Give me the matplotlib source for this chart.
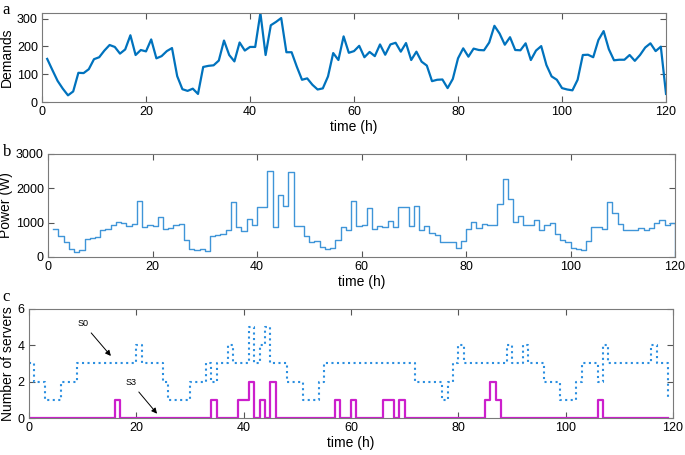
import numpy as np
import matplotlib.pyplot as plt

# hourly demand (panel a), t = 1..120
demand = [155, 115, 76, 48, 24, 38, 105, 104, 118, 154,
          161, 185, 205, 198, 174, 189, 240, 169, 187, 182,
          225, 157, 165, 183, 194, 93, 46, 40, 48, 29,
          126, 130, 132, 149, 221, 169, 146, 214, 185, 198,
          198, 320, 169, 276, 288, 302, 179, 179, 127, 80,
          85, 62, 45, 49, 92, 176, 151, 236, 177, 183,
          202, 161, 180, 165, 207, 170, 207, 213, 181, 212,
          151, 181, 145, 131, 75, 80, 81, 50, 83, 157,
          193, 163, 192, 187, 186, 214, 274, 246, 206, 233,
          187, 186, 211, 151, 185, 201, 133, 92, 80, 50,
          45, 42, 80, 169, 170, 161, 223, 255, 190, 150,
          152, 152, 169, 148, 169, 196, 211, 183, 199, 29]

# power consumption (panel b), t = 1..120
power = [806, 612, 427, 243, 146, 204, 534, 544, 592, 796,
         825, 932, 1019, 1000, 893, 951, 1640, 864, 942, 913,
         1155, 806, 854, 922, 971, 495, 233, 204, 243, 165,
         621, 641, 660, 777, 1612, 864, 767, 1107, 922, 1466,
         1466, 2515, 864, 1806, 1476, 2466, 903, 903, 621, 437,
         466, 301, 243, 272, 495, 883, 786, 1621, 893, 922,
         1437, 825, 913, 864, 1039, 874, 1466, 1466, 913, 1495,
         786, 913, 709, 650, 427, 447, 447, 262, 466, 806,
         1029, 845, 971, 942, 932, 1534, 2272, 1680, 1019, 1194,
         942, 942, 1087, 786, 932, 1000, 670, 495, 437, 252,
         233, 214, 456, 864, 864, 825, 1612, 1291, 951, 786,
         796, 796, 845, 786, 854, 981, 1087, 932, 1000, 0]

# number of servers (panel c), t = 0..119
s0 = [3, 2, 2, 1, 1, 1, 2, 2, 2, 3,
      3, 3, 3, 3, 3, 3, 3, 3, 3, 3,
      4, 3, 3, 3, 3, 2, 1, 1, 1, 1,
      2, 2, 2, 3, 2, 3, 3, 4, 3, 3,
      3, 5, 3, 4, 5, 3, 3, 3, 2, 2,
      2, 1, 1, 1, 2, 3, 3, 3, 3, 3,
      3, 3, 3, 3, 3, 3, 3, 3, 3, 3,
      3, 3, 2, 2, 2, 2, 2, 1, 2, 3,
      4, 3, 3, 3, 3, 3, 3, 3, 3, 4,
      3, 3, 4, 3, 3, 3, 2, 2, 2, 1,
      1, 1, 2, 3, 3, 3, 2, 4, 3, 3,
      3, 3, 3, 3, 3, 3, 4, 3, 3, 1]
s3 = [0, 0, 0, 0, 0, 0, 0, 0, 0, 0,
      0, 0, 0, 0, 0, 0, 1, 0, 0, 0,
      0, 0, 0, 0, 0, 0, 0, 0, 0, 0,
      0, 0, 0, 0, 1, 0, 0, 0, 0, 1,
      1, 2, 0, 1, 0, 2, 0, 0, 0, 0,
      0, 0, 0, 0, 0, 0, 0, 1, 0, 0,
      1, 0, 0, 0, 0, 0, 1, 1, 0, 1,
      0, 0, 0, 0, 0, 0, 0, 0, 0, 0,
      0, 0, 0, 0, 0, 1, 2, 1, 0, 0,
      0, 0, 0, 0, 0, 0, 0, 0, 0, 0,
      0, 0, 0, 0, 0, 0, 1, 0, 0, 0,
      0, 0, 0, 0, 0, 0, 0, 0, 0, 0]

hours = np.arange(1, 121)
hours_c = np.arange(0, 120)

plt.rcParams['font.family'] = ['Liberation Sans', 'DejaVu Sans']
plt.rcParams['font.size'] = 9

box_color = '#7a7a7a'


def style_axes(ax):
    for sp in ax.spines.values():
        sp.set_color(box_color)
        sp.set_linewidth(0.8)
    ax.tick_params(direction='in', top=True, right=True, length=4,
                   width=0.8, color='#555555', labelsize=9, pad=3)
    ax.set_xlim(0, 120)
    ax.set_xticks(np.arange(0, 121, 20))
    ax.set_xlabel('time (h)', fontsize=10, labelpad=1)


fig = plt.figure(figsize=(6.85, 4.55), dpi=100)

# panel a
ax1 = fig.add_axes([0.0613, 0.7758, 0.911, 0.1956])
ax1.plot(hours, demand, color='#0072BD', linewidth=1.6)
ax1.set_ylim(0, 320)
ax1.set_yticks([0, 100, 200, 300])
ax1.set_ylabel('Demands', fontsize=10, labelpad=2)
style_axes(ax1)

# panel b
ax2 = fig.add_axes([0.0701, 0.4352, 0.9153, 0.2264])
ax2.step(hours, power, where='post', color='#3f95d8', linewidth=1.0)
ax2.set_ylim(0, 3000)
ax2.set_yticks([0, 1000, 2000, 3000])
ax2.set_ylabel('Power (W)', fontsize=10, labelpad=2)
style_axes(ax2)

# panel c
ax3 = fig.add_axes([0.0423, 0.0813, 0.940, 0.2396])
ax3.step(hours_c, s0, where='post', color='#2a8ee0', linewidth=1.5,
         linestyle=':')
ax3.step(hours_c, s3, where='post', color='#cc1fcc', linewidth=1.6)
ax3.set_ylim(0, 6)
ax3.set_yticks([0, 2, 4, 6])
ax3.set_ylabel('Number of servers', fontsize=10, labelpad=2)
style_axes(ax3)

arrow = dict(arrowstyle='-|>', color='black', lw=0.7, mutation_scale=8)
ax3.annotate('S0', xy=(15.6, 3.3), xytext=(10.1, 5.2), fontsize=6.5,
             ha='center', va='center', arrowprops=arrow)
ax3.annotate('S3', xy=(24.2, 0.12), xytext=(19.0, 1.95), fontsize=6.5,
             ha='center', va='center', arrowprops=arrow)

# panel letters
for letter, y in [('a', 0.978), ('b', 0.667), ('c', 0.348)]:
    fig.text(0.004, y, letter, fontsize=12, family='Liberation Serif',
             va='center', ha='left')

fig.savefig('out.png', dpi=100)
